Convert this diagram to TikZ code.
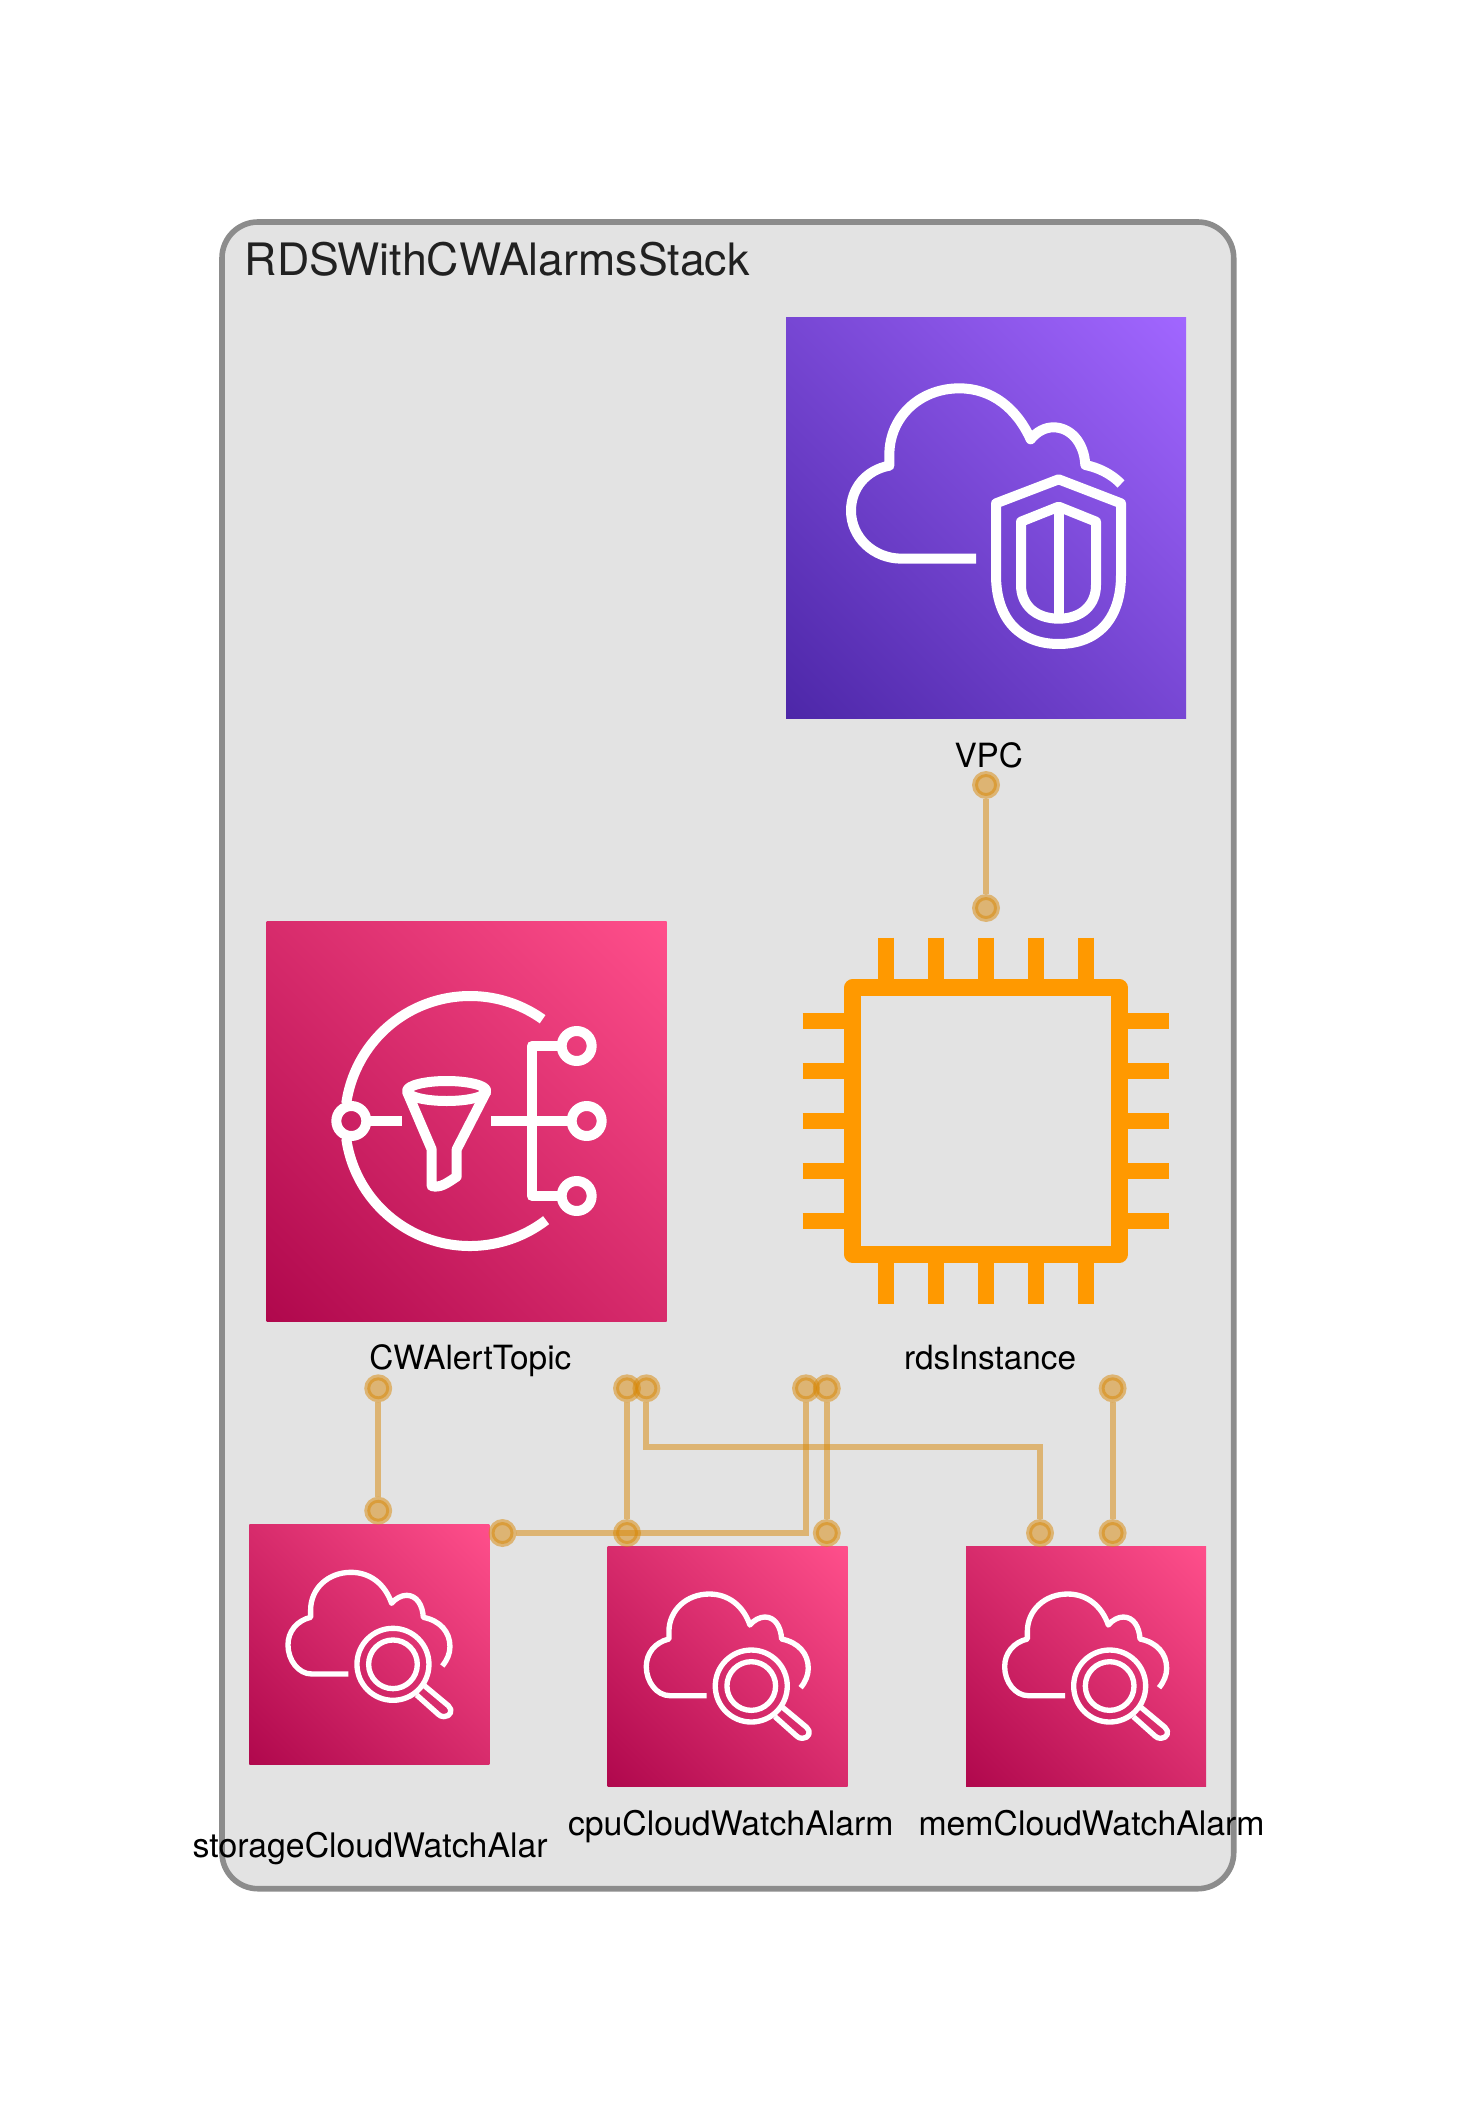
\documentclass[tikz,border=0pt]{standalone}
\usepackage{fontspec}
\setmainfont{TeX Gyre Heros}
\definecolor{vpcdark}{HTML}{4D27A8}
\definecolor{vpclight}{HTML}{A166FF}
\definecolor{pinkdark}{HTML}{B0084D}
\definecolor{pinklight}{HTML}{FF4F8B}
\definecolor{chip}{HTML}{FF9900}
\definecolor{panel}{HTML}{E3E3E3}
\definecolor{panelline}{HTML}{8C8C8C}
\definecolor{link}{RGB}{216,135,5}
\pgfdeclarehorizontalshading{vpcgrad}{100bp}{color(0bp)=(vpcdark); color(14.65bp)=(vpcdark); color(85.35bp)=(vpclight); color(100bp)=(vpclight)}
\pgfdeclarehorizontalshading{pinkgrad}{100bp}{color(0bp)=(pinkdark); color(14.65bp)=(pinkdark); color(85.35bp)=(pinklight); color(100bp)=(pinklight)}
\tikzset{
  tile/.style={inner sep=0,outer sep=0,draw=none,shading angle=45},
  bigtile/.style={tile,anchor=north west,minimum size=300pt},
  smalltile/.style={tile,anchor=north west,minimum size=180pt},
  glyph/.style={draw=white,line width=7.5pt,line join=round},
  smallglyph/.style={draw=white,line width=4pt,line join=round},
  lbl/.style={anchor=base west,inner sep=0,outer sep=0,font=\fontsize{25}{30}\selectfont,text=black},
  widelbl/.style={lbl,font=\fontsize{25.35}{30}\selectfont},
  dot/.style={circle,inner sep=0,outer sep=2.2pt,minimum size=16.5pt,fill=link,fill opacity=.5,
    postaction={draw=link,draw opacity=.5,line width=4.4pt}},
  conn/.style={draw=link,draw opacity=.5,line width=4.4pt,line join=miter},
  pics/alarmicon/.style={code={
    \begin{scope}[shift={(-9.33,-14.33)},scale=1/3]
      \draw[smallglyph] (325,492) -- (215,492) .. controls (175,492) and (144,450) .. (144,405)
        .. controls (144,365) and (170,332) .. (212,322) -- (212,300)
        .. controls (212,235) and (265,187) .. (333,187)
        .. controls (390,187) and (435,222) .. (455,280)
        .. controls (467,265) and (485,256) .. (500,256)
        .. controls (530,256) and (548,285) .. (550,322)
        .. controls (600,332) and (630,365) .. (630,410)
        .. controls (630,430) and (622,450) .. (607,468);
      \draw[smallglyph] (459,463) circle[radius=108];
      \draw[smallglyph] (459,463) circle[radius=73];
      \draw[smallglyph] (553,527) -- (625,587) .. controls (640,600) and (632,620) .. (612,620)
        .. controls (604,620) and (600,617) .. (595,613) -- (530,555);
    \end{scope}
  }}
}
\begin{document}
\begin{tikzpicture}[x=.75pt,y=-.75pt]
\useasboundingbox (0,0) rectangle (1456,2111);
\fill[white] (0,0) rectangle (1456,2111);
% stack panel
\draw[fill=panel,draw=panelline,line width=4.2pt,rounded corners=27pt] (222,222) rectangle (1233.7,1888.7);
\node[anchor=base west,inner sep=0,font=\fontsize{33.5}{40}\selectfont,text=black!87] (title) at (244.5,276) {RDSWithCWAlarmsStack};

% tiles
\node[bigtile,shading=vpcgrad] (vpc) at (786,318) {};
\node[bigtile,shading=pinkgrad] (topic) at (266.7,921) {};
\node[smalltile,shading=pinkgrad] (storage) at (249.3,1524.3) {};
\node[smalltile,shading=pinkgrad] (cpu) at (607.6,1546) {};
\node[smalltile,shading=pinkgrad] (mem) at (966,1546) {};

% VPC glyph
\begin{scope}[shift={(760,300)},scale=1/3]
  \draw[glyph] (648,776) -- (425,776) .. controls (340,776) and (273,712) .. (273,632)
    .. controls (273,565) and (318,510) .. (388,497) -- (388,465)
    .. controls (388,350) and (480,265) .. (598,265)
    .. controls (695,265) and (770,325) .. (812,418)
    .. controls (830,395) and (855,382) .. (880,382)
    .. controls (930,382) and (972,425) .. (976,495)
    .. controls (1015,503) and (1055,522) .. (1083,552);
  \draw[glyph] (896,538) -- (1083,610) -- (1083,825) .. controls (1083,960) and (1010,1032) .. (896,1032)
    .. controls (782,1032) and (708,960) .. (708,825) -- (708,610) -- cycle;
  \draw[glyph] (896,620) -- (1008,665) -- (1008,855) .. controls (1008,915) and (965,956) .. (896,956)
    .. controls (827,956) and (783,915) .. (783,855) -- (783,665) -- cycle;
  \draw[glyph] (896,620) -- (896,956);
\end{scope}

% SNS glyph
\begin{scope}[shift={(250,900)},scale=1/3]
  \draw[glyph] (660,663) ++(-54.5:375) arc[start angle=-54.5,end angle=-171.9,radius=375];
  \draw[glyph] (660,663) ++(-188.1:375) arc[start angle=-188.1,end angle=-307.5,radius=375];
  \draw[glyph] (304,663) circle[radius=45];
  \draw[glyph] (360,663) -- (456,663);
  \draw[glyph] (590,573) ellipse[x radius=119,y radius=30];
  \draw[glyph] (471,575) -- (545,748) -- (545,858) .. controls (570,865) and (590,850) .. (620,830) -- (620,748) -- (709,575);
  \draw[glyph] (724,663) -- (955,663);
  \draw[glyph] (1010,663) circle[radius=45];
  \draw[glyph] (925,438) -- (845,438) -- (845,888) -- (925,888);
  \draw[glyph] (980,438) circle[radius=45];
  \draw[glyph] (980,888) circle[radius=45];
\end{scope}

% alarm glyphs
\pic at (249.3,1524.3) {alarmicon};
\pic at (607.6,1546) {alarmicon};
\pic at (966,1546) {alarmicon};

% chip
\begin{scope}[shift={(780,900)},scale=1/3]
  \draw[draw=chip,line width=12.5pt,line join=round] (218,263) rectangle (1018,1063);
  \foreach \p in {318,468,618,768,918}{
    \draw[draw=chip,line width=12.5pt] (\p,113) -- (\p,238);
    \draw[draw=chip,line width=12.5pt] (\p,1088) -- (\p,1213);
  }
  \foreach \p in {363,513,663,813,963}{
    \draw[draw=chip,line width=12.5pt] (68,\p) -- (193,\p);
    \draw[draw=chip,line width=12.5pt] (1043,\p) -- (1168,\p);
  }
\end{scope}

% labels
\node[lbl] (lvpc) at (954.5,767) {VPC};
\node[lbl] (ltopic) at (369.4,1369.5) {CWAlertTopic};
\node[lbl] (lrds) at (904,1369.5) {rdsInstance};
\node[widelbl] (lstorage) at (192.7,1857) {storageCloudWatchAlar};
\node[widelbl] (lcpu) at (568,1835) {cpuCloudWatchAlarm};
\node[widelbl] (lmem) at (918.5,1835) {memCloudWatchAlarm};

% connector ends
\node[dot] (a1) at (986,785) {};
\node[dot] (a2) at (986,908) {};
\node[dot] (b1) at (378.2,1388.3) {};
\node[dot] (b2) at (378.2,1510.7) {};
\node[dot] (c1) at (502.5,1533) {};
\node[dot] (c2) at (806,1388.3) {};
\node[dot] (d1) at (627,1388.3) {};
\node[dot] (d2) at (627,1533) {};
\node[dot] (e1) at (646.4,1388.3) {};
\node[dot] (e2) at (1040,1533) {};
\node[dot] (f1) at (826.8,1388.3) {};
\node[dot] (f2) at (826.8,1533) {};
\node[dot] (g1) at (1112.6,1388.3) {};
\node[dot] (g2) at (1112.6,1533) {};
\coordinate (ebend) at (1040,1447.3);

% connectors
\draw[conn] (a1) -- (a2);
\draw[conn] (b1) -- (b2);
\draw[conn] (c1) -| (c2);
\draw[conn] (d1) -- (d2);
\draw[conn] (e1) |- (ebend) -- (e2);
\draw[conn] (f1) -- (f2);
\draw[conn] (g1) -- (g2);
\end{tikzpicture}
\end{document}
